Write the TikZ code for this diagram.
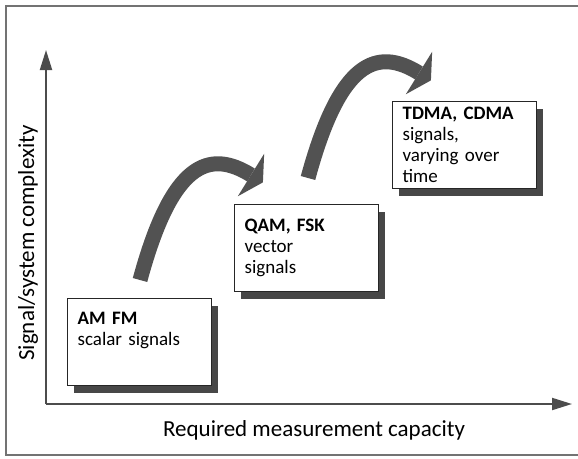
\documentclass[tikz,border=0pt]{standalone}
\usepackage{fontspec}
\setmainfont{Carlito}
\usetikzlibrary{arrows.meta,shadows,calc}

\tikzset{
  sigbox/.style={draw=black!85, line width=1.2pt, fill=white, anchor=north west,
    align=left, text width=124pt, inner xsep=10pt, minimum height=87pt,
    font=\fontsize{19}{21}\selectfont,
    general shadow={fill=black!72, shadow xshift=6pt, shadow yshift=-7pt}},
  axis/.style={draw=black!70, line width=2pt, -{Triangle[width=12pt,length=20pt]}},
  jump/.style={draw=black!68, line width=15pt},
  jumphead/.style={fill=black!68},
  axislabel/.style={font=\fontsize{23}{27}\selectfont}
}

\begin{document}
\begin{tikzpicture}[x=1pt,y=-1pt]
  \useasboundingbox (0,0) rectangle (578,458);
  \draw[black!55, line width=1.5pt] (580,6) -- (6,6) -- (6,455) -- (580,455);
  % axes
  \coordinate (o) at (46,404);
  \coordinate (ytop) at (46,50);
  \coordinate (xend) at (572,404);
  \draw[axis] (o) -- (ytop);
  \draw[axis] (o) -- (xend);
  \node[axislabel, rotate=90] (ylab) at (28,243) {Signal/system complexity};
  \node[axislabel] (xlab) at (314,430) {Required measurement capacity};
  % signal boxes
  \node[sigbox] (amfm) at (67,298) {\textbf{AM FM}\\scalar signals\\\strut};
  \node[sigbox] (qam) at (234,204) {\textbf{QAM, FSK}\\vector\\signals};
  \node[sigbox] (tdma) at (392,101) {\textbf{TDMA, CDMA}\\signals,\\varying over\\time};
  % jumps between the boxes
  \coordinate (s1) at (140,280);
  \coordinate (b1) at (251,175);
  \coordinate (c1) at ($(b1)+(-42,-26)$);
  \coordinate (t1) at ($(b1)!-14pt!(c1)$);
  \draw[jump] (s1) .. controls +(32,-118) and (c1) .. (b1);
  \fill[jumphead] ($(b1)!25pt!90:(t1)$) -- (t1) -- ($(b1)!25pt!-90:(t1)$) -- cycle;
  \coordinate (s2) at (308,178);
  \coordinate (b2) at (419,73);
  \coordinate (c2) at ($(b2)+(-42,-26)$);
  \coordinate (t2) at ($(b2)!-14pt!(c2)$);
  \draw[jump] (s2) .. controls +(32,-118) and (c2) .. (b2);
  \fill[jumphead] ($(b2)!25pt!90:(t2)$) -- (t2) -- ($(b2)!25pt!-90:(t2)$) -- cycle;
\end{tikzpicture}
\end{document}
